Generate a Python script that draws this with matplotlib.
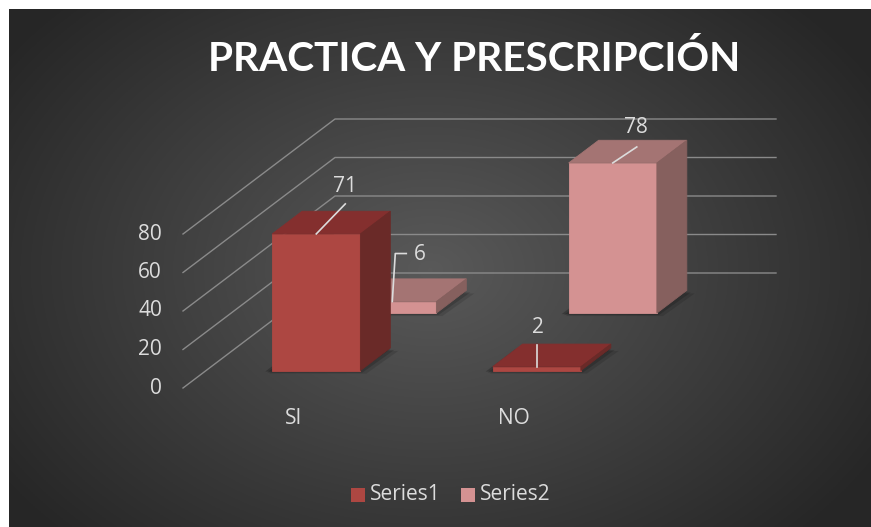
import numpy as np
import matplotlib
matplotlib.use("Agg")
import matplotlib.pyplot as plt
from matplotlib.patches import Polygon, Rectangle

categories = ["SI", "NO"]
series_names = ["Series1", "Series2"]
series1 = [71, 2]
series2 = [6, 78]
y_ticks = [0, 20, 40, 60, 80]
title = "PRACTICA Y PRESCRIPCIÓN"

# colours per series: front, top, side
FACE = {0: ("#ad4742", "#842f2e", "#6a2a28"), 1: ("#d49292", "#a47473", "#86605e")}
TXT = "#dcdcdc"
GRID = "#8a8a8a"

# oblique projection (pixel space of the 871x527 canvas)
X0, Y0 = 183, 388
CAT_W = 220.5
DEPTH_DX, DEPTH_DY = 152, 115
VSCALE = 1.925
BAR_W = 0.4
BAR_D = 0.197


def proj(cx, z, v):
    return (X0 + cx * CAT_W + z * DEPTH_DX, Y0 - v * VSCALE - z * DEPTH_DY)


fig = plt.figure(figsize=(8.71, 5.27), dpi=100, facecolor="white")
ax = fig.add_axes([0, 0, 1, 1])
ax.set_xlim(0, 871)
ax.set_ylim(527, 0)
ax.axis("off")

# radial gradient background
gx, gy = np.meshgrid(np.linspace(9, 871, 400), np.linspace(9, 527, 300))
r = np.sqrt(((gx - 430) / 520) ** 2 + ((gy - 270) / 380) ** 2)
r = np.clip(r, 0, 1)
c_in, c_out = np.array([0.35, 0.35, 0.35]), np.array([0.15, 0.15, 0.15])
img = c_in[None, None, :] * (1 - r[..., None]) + c_out[None, None, :] * r[..., None]
ax.imshow(img, extent=(9, 871, 527, 9), aspect="auto", zorder=0)

# gridlines: side wall + back wall
for v in y_ticks:
    a, b, c = proj(0, 0, v), proj(0, 1, v), proj(2, 1, v)
    ax.plot([a[0], b[0], c[0]], [a[1], b[1], c[1]], color=GRID, lw=1, zorder=1)
    ax.text(a[0] - 21, a[1], str(v), color=TXT, fontsize=15, ha="right", va="center",
            family="Open Sans")


def face(pts, color, z):
    ax.add_patch(Polygon(pts, closed=True, facecolor=color, edgecolor=color, lw=0.6,
                         joinstyle="miter", zorder=z))


def draw_bar(i, j, v):
    cx0, cx1 = i + 0.5 - BAR_W / 2, i + 0.5 + BAR_W / 2
    z0 = j * 0.5 + 0.25 - BAR_D / 2
    z1 = z0 + BAR_D
    front, top, side = FACE[j]
    # soft shadow on the floor
    for k, a in enumerate([0.12, 0.16, 0.22]):
        off = 6 - 2 * k
        pts = [proj(cx0, z0, 0), proj(cx1, z0, 0), proj(cx1, z1, 0), proj(cx0, z1, 0)]
        pts = [(p[0] + off - 9, p[1] + off / 2) for p in pts]
        pts[1] = (pts[1][0] + off + 3, pts[1][1])
        pts[2] = (pts[2][0] + off + 5, pts[2][1])
        ax.add_patch(Polygon(pts, closed=True, facecolor="black", edgecolor="none",
                             alpha=a, zorder=2 - j * 0.5 + 0.5))
    zb = 3 + (1 - j) * 2
    face([proj(cx0, z0, 0), proj(cx1, z0, 0), proj(cx1, z0, v), proj(cx0, z0, v)], front, zb)
    face([proj(cx0, z0, v), proj(cx1, z0, v), proj(cx1, z1, v), proj(cx0, z1, v)], top, zb)
    face([proj(cx1, z0, 0), proj(cx1, z1, 0), proj(cx1, z1, v), proj(cx1, z0, v)], side, zb)
    return proj(i + 0.5, z0, v)


# label leaders: (leader path offsets, text offset) relative to front-top centre
LEADERS = {
    (0, 0): ([(0, 0), (29, -30)], (29, -47)),
    (0, 1): ([(0, 0), (3, -48), (14, -48)], (28, -47)),
    (1, 0): ([(0, 0), (0, -22)], (1, -39)),
    (1, 1): ([(0, 0), (24, -16)], (23, -35)),
}

for j, vals in enumerate([series1, series2]):
    for i, v in enumerate(vals):
        px, py = draw_bar(i, j, v)
        path, (tx, ty) = LEADERS[(i, j)]
        ax.plot([px + dx for dx, dy in path], [py + dy for dx, dy in path],
                color=TXT, lw=1.2, zorder=8)
        ax.text(px + tx, py + ty, str(v), color=TXT, fontsize=15, ha="center", va="center",
                family="Open Sans", zorder=9)

for i, cat in enumerate(categories):
    x, _ = proj(i + 0.5, 0, 0)
    ax.text(x, 419, cat, color=TXT, fontsize=15, ha="center", va="center", family="Open Sans")

# title, sized to span the same width as in the original
t = ax.text(474, 59, title, color="white", fontsize=30, fontweight="bold", ha="center",
            va="center", family="Lato")
fig.canvas.draw()
w = t.get_window_extent().width
t.set_fontsize(30 * 532 / w)

# legend
for k, (name, x) in enumerate(zip(series_names, [351, 461])):
    ax.add_patch(Rectangle((x, 488), 14, 14, facecolor=FACE[k][0], edgecolor="none", zorder=5))
    ax.text(x + 19, 494, name, color=TXT, fontsize=15, ha="left", va="center", family="Open Sans")

fig.savefig("out.png", dpi=100, facecolor="white")
